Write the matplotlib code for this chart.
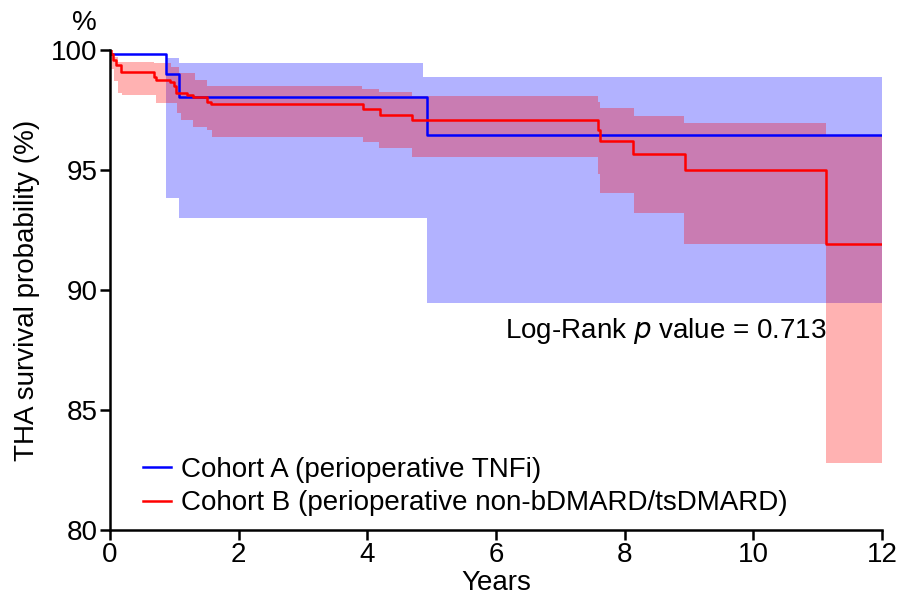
import matplotlib
matplotlib.use("Agg")
import matplotlib.pyplot as plt

plt.rcParams['font.family'] = ['Liberation Sans', 'DejaVu Sans']

# Cohort A (blue) KM curve
a_t = [0.0, 0.87, 1.08, 4.93]
a_s = [99.83, 98.99, 98.04, 96.46]
# Cohort A CI
a_ci_t = [0.87, 1.08, 4.87, 4.93]
a_ci_hi = [99.65, 99.44, 98.89, 98.89]
a_ci_lo = [93.82, 92.99, 92.99, 89.46]

# Cohort B (red) KM curve
b_t = [0.0, 0.02, 0.05, 0.10, 0.17, 0.69, 0.72, 0.94, 0.99, 1.03, 1.19, 1.29, 1.50, 1.57,
       3.94, 4.19, 4.69, 7.58, 7.62, 8.13, 8.94, 11.13]
b_s = [100.0, 99.82, 99.58, 99.38, 99.07, 98.88, 98.76, 98.65, 98.52, 98.22, 98.12, 98.03,
       97.85, 97.74, 97.53, 97.29, 97.08, 96.67, 96.22, 95.67, 95.0, 91.93]
# Cohort B CI upper
b_hi_t = [0.0, 0.02, 0.06, 0.12, 0.69, 0.95, 1.07, 1.32, 1.50, 3.92, 4.18, 4.70, 7.59, 7.62,
          8.14, 8.93, 11.13]
b_hi = [100.0, 99.85, 99.7, 99.52, 99.45, 99.3, 99.03, 98.75, 98.5, 98.36, 98.24, 98.1,
        97.85, 97.6, 97.26, 96.95, 96.42]
# Cohort B CI lower
b_lo_t = [0.0, 0.02, 0.06, 0.12, 0.18, 0.72, 1.04, 1.11, 1.29, 1.50, 1.58, 3.93, 4.18, 4.70,
          7.59, 7.62, 8.14, 8.93, 11.13]
b_lo = [100.0, 99.2, 98.7, 98.2, 98.13, 97.8, 97.36, 97.08, 96.8, 96.67, 96.39, 96.18, 95.9,
        95.55, 94.82, 94.05, 93.2, 91.92, 82.8]

x_end = 12.0
x_ticks = [0, 2, 4, 6, 8, 10, 12]
y_ticks = [80, 85, 90, 95, 100]

def ext(t, v):
    return list(t) + [x_end], list(v) + [v[-1]]

fig = plt.figure(figsize=(9, 5.96), dpi=100)
ax = fig.add_axes([110/900, 1 - 530/596, 772/900, 480/596])

blue = '#0000FF'
red = '#FF0000'
FS = 20

# Cohort A band
t_hi, v_hi = ext(a_ci_t, a_ci_hi)
t_lo, v_lo = ext(a_ci_t, a_ci_lo)
ax.fill_between(t_hi, v_lo, v_hi, step='post', color=blue, alpha=0.3, linewidth=0)
# Cohort A line
t, v = ext(a_t, a_s)
ax.step(t, v, where='post', color=blue, lw=1.8, label='Cohort A (perioperative TNFi)')

# Cohort B band: common time grid
grid = sorted(set(b_hi_t) | set(b_lo_t))
def val_at(ts, vs, x):
    out = vs[0]
    for ti, vi in zip(ts, vs):
        if ti <= x:
            out = vi
    return out
hi_g = [val_at(b_hi_t, b_hi, g) for g in grid]
lo_g = [val_at(b_lo_t, b_lo, g) for g in grid]
tg, hg = ext(grid, hi_g)
_, lg = ext(grid, lo_g)
ax.fill_between(tg, lg, hg, step='post', color=red, alpha=0.3, linewidth=0)
t, v = ext(b_t, b_s)
ax.step(t, v, where='post', color=red, lw=1.8,
        label='Cohort B (perioperative non-bDMARD/tsDMARD)')

ax.set_xlim(0, 12)
ax.set_ylim(80, 100)
ax.set_xticks(x_ticks)
ax.set_yticks(y_ticks)
for s in ['top', 'right']:
    ax.spines[s].set_visible(False)
for s in ['left', 'bottom']:
    ax.spines[s].set_linewidth(1.8)
ax.tick_params(axis='both', direction='out', length=7, width=1.8, labelsize=FS, pad=2)

ax.set_xlabel('Years', fontsize=FS, labelpad=1)
ax.set_ylabel('THA survival probability (%)', fontsize=FS, labelpad=8)
ax.text(-0.4, 100.6, '%', fontsize=FS, ha='center', va='bottom')

ax.text(6.14, 88.3, r'Log-Rank $\it{p}$ value = 0.713', fontsize=FS, ha='left', va='center')

leg = ax.legend(loc='lower left', bbox_to_anchor=(0.0285, 0.005), frameon=False, fontsize=FS,
                handlelength=1.0, handletextpad=0.36, labelspacing=0.28, borderaxespad=0)

fig.savefig('out.png', dpi=100)
